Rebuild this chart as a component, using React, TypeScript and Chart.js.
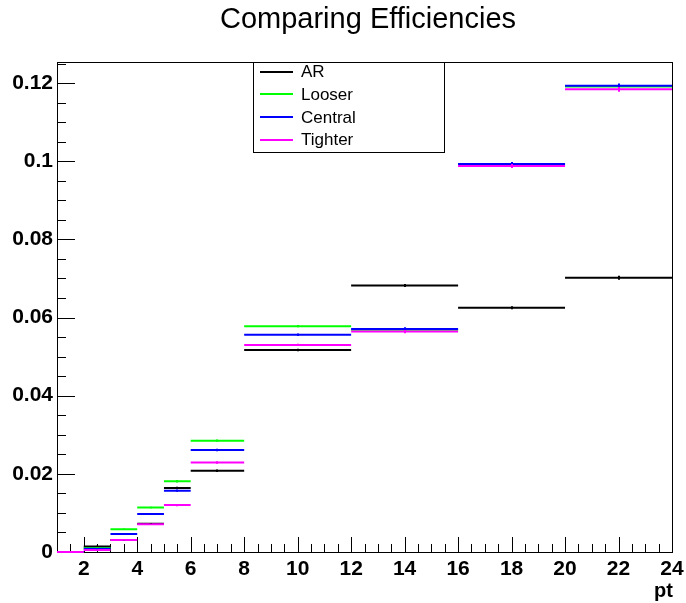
import React, { useEffect, useRef } from "react";
import { Chart, registerables } from "chart.js";

Chart.register(...registerables);

// ---- Data ----
const binEdges = [1, 2, 3, 4, 5, 6, 8, 12, 16, 20, 24];
const arValues = [0, 0.0014, 0.0031, 0.0072, 0.0164, 0.0208, 0.0517, 0.0682, 0.0625, 0.0702];
const looserValues = [0, 0.001, 0.0058, 0.0114, 0.0181, 0.0285, 0.0578, 0.0569, 0.0993, 0.1191];
const centralValues = [0, 0.0008, 0.0046, 0.0097, 0.0157, 0.0261, 0.0556, 0.0571, 0.0993, 0.1193];
const tighterValues = [0, 0.0005, 0.0031, 0.0071, 0.012, 0.0229, 0.053, 0.0564, 0.0988, 0.1184];
const arErrors = [0, 0.0002, 0.0002, 0.0002, 0.0003, 0.0003, 0.0003, 0.0004, 0.0004, 0.0005];
const looserErrors = [0, 0.0002, 0.0002, 0.0002, 0.0003, 0.0003, 0.0003, 0.0004, 0.0005, 0.0006];
const centralErrors = [0, 0.0002, 0.0002, 0.0002, 0.0003, 0.0003, 0.0003, 0.0004, 0.0005, 0.0006];
const tighterErrors = [0, 0.0002, 0.0002, 0.0002, 0.0003, 0.0003, 0.0003, 0.0004, 0.0005, 0.0006];
const seriesNames = ["AR", "Looser", "Central", "Tighter"];
const seriesColors = ["#000000", "#00ff00", "#0000ff", "#ff00ff"];
const xTickValues = [2, 4, 6, 8, 10, 12, 14, 16, 18, 20, 22, 24];
const xTickLabels = ["2", "4", "6", "8", "10", "12", "14", "16", "18", "20", "22", "24"];
const yTickValues = [0, 0.02, 0.04, 0.06, 0.08, 0.1, 0.12];
const yTickLabels = ["0", "0.02", "0.04", "0.06", "0.08", "0.1", "0.12"];
const xMin = 1;
const xMax = 24;
const yMin = 0;
const yMax = 0.1254;
const titleText = "Comparing Efficiencies";
const xAxisTitle = "pt";

const allValues = [arValues, looserValues, centralValues, tighterValues];
const allErrors = [arErrors, looserErrors, centralErrors, tighterErrors];

const FONT = "'Liberation Sans', Arial, Helvetica, sans-serif";

function toSegments(values: number[]) {
  const pts: { x: number; y: number | null }[] = [];
  values.forEach((v, i) => {
    pts.push({ x: binEdges[i], y: v });
    pts.push({ x: binEdges[i + 1], y: v });
    pts.push({ x: binEdges[i + 1], y: null });
  });
  return pts;
}

const rootPlugin = {
  id: "rootStyle",
  beforeDatasetsDraw(chart: any) {
    const ctx = chart.ctx;
    const a = chart.chartArea;
    const xs = chart.scales.x;
    const ys = chart.scales.y;
    ctx.save();
    ctx.strokeStyle = "#000";
    ctx.lineWidth = 1;
    // frame
    ctx.strokeRect(Math.round(a.left) + 0.5, Math.round(a.top) + 0.5, Math.round(a.right - a.left), Math.round(a.bottom - a.top));
    // x ticks (inward)
    ctx.beginPath();
    for (let v = xMin; v <= xMax + 1e-9; v += 0.5) {
      const px = Math.round(xs.getPixelForValue(v)) + 0.5;
      const major = xTickValues.includes(v);
      const len = major ? 15 : 8;
      ctx.moveTo(px, a.bottom);
      ctx.lineTo(px, a.bottom - len);
    }
    // y ticks (inward)
    for (let k = 0; k * 0.005 <= yMax + 1e-9; k++) {
      const v = k * 0.005;
      const py = Math.round(ys.getPixelForValue(v)) + 0.5;
      const major = k % 4 === 0;
      const len = major ? 18 : 9;
      ctx.moveTo(a.left, py);
      ctx.lineTo(a.left + len, py);
    }
    ctx.stroke();
    ctx.restore();
  },
  afterDatasetsDraw(chart: any) {
    const ctx = chart.ctx;
    const xs = chart.scales.x;
    const ys = chart.scales.y;
    ctx.save();
    allValues.forEach((vals, si) => {
      ctx.strokeStyle = seriesColors[si];
      ctx.lineWidth = 2;
      vals.forEach((v, i) => {
        const e = allErrors[si][i];
        if (!e) return;
        const cx = Math.round(xs.getPixelForValue((binEdges[i] + binEdges[i + 1]) / 2));
        ctx.beginPath();
        ctx.moveTo(cx, ys.getPixelForValue(v - e));
        ctx.lineTo(cx, ys.getPixelForValue(v + e));
        ctx.stroke();
      });
    });
    ctx.restore();
  },
  afterDraw(chart: any) {
    const ctx = chart.ctx;
    ctx.save();
    // title
    ctx.fillStyle = "#000";
    ctx.font = `29px ${FONT}`;
    ctx.textAlign = "center";
    ctx.textBaseline = "alphabetic";
    ctx.fillText(titleText, 368, 28);

    // x axis title
    ctx.font = `bold 20px ${FONT}`;
    ctx.textAlign = "right";
    ctx.fillText(xAxisTitle, 673, 597);

    // legend
    const lx = 253, ly = 62, lw = 191, lh = 90;
    ctx.fillStyle = "#fff";
    ctx.fillRect(lx, ly, lw, lh);
    ctx.strokeStyle = "#000";
    ctx.lineWidth = 1;
    ctx.strokeRect(lx + 0.5, ly + 0.5, lw, lh);
    const rows = [71.5, 94, 117, 139.5];
    ctx.font = `17px ${FONT}`;
    ctx.textAlign = "left";
    ctx.textBaseline = "middle";
    seriesNames.forEach((name, i) => {
      ctx.strokeStyle = seriesColors[i];
      ctx.lineWidth = 2;
      ctx.beginPath();
      ctx.moveTo(260, Math.round(rows[i]));
      ctx.lineTo(293, Math.round(rows[i]));
      ctx.stroke();
      ctx.fillStyle = "#000";
      ctx.fillText(name, 301, rows[i] + 1);
    });
    ctx.restore();
  },
};

export default function App() {
  const ref = useRef<HTMLCanvasElement | null>(null);
  useEffect(() => {
    document.body.style.margin = "0";
    const canvas = ref.current!;
    const order = [4, 3, 2, 1];
    const chart = new Chart(canvas, {
      type: "line",
      data: {
        datasets: allValues.map((vals, i) => ({
          label: seriesNames[i],
          data: toSegments(vals),
          borderColor: seriesColors[i],
          backgroundColor: seriesColors[i],
          borderWidth: 2,
          pointRadius: 0,
          pointHoverRadius: 0,
          spanGaps: false,
          tension: 0,
          fill: false,
          clip: false,
          order: order[i],
        })),
      },
      options: {
        animation: false,
        responsive: false,
        devicePixelRatio: 1,
        events: [],
        layout: { padding: { top: 62, right: 14, left: 0, bottom: 0 } },
        plugins: {
          legend: { display: false },
          title: { display: false },
          tooltip: { enabled: false },
        },
        scales: {
          x: {
            type: "linear",
            min: xMin,
            max: xMax,
            grid: { display: false, drawTicks: false, tickLength: 0 },
            border: { display: false },
            afterBuildTicks: (scale: any) => {
              scale.ticks = xTickValues.map((v) => ({ value: v }));
            },
            afterFit: (scale: any) => {
              scale.height = 51;
              scale.paddingLeft = 0;
              scale.paddingRight = 0;
            },
            ticks: {
              autoSkip: false,
              maxRotation: 0,
              padding: 5,
              color: "#000",
              font: { family: FONT, size: 21, weight: "bold" },
              callback: (_v: any, i: number) => xTickLabels[i],
            },
          },
          y: {
            type: "linear",
            min: yMin,
            max: yMax,
            grid: { display: false, drawTicks: false, tickLength: 0 },
            border: { display: false },
            afterBuildTicks: (scale: any) => {
              scale.ticks = yTickValues.map((v) => ({ value: v }));
            },
            afterFit: (scale: any) => {
              scale.width = 57;
              scale.paddingTop = 0;
              scale.paddingBottom = 0;
            },
            ticks: {
              autoSkip: false,
              padding: 4,
              color: "#000",
              font: { family: FONT, size: 21, weight: "bold" },
              callback: (_v: any, i: number) => yTickLabels[i],
            },
          },
        },
      },
      plugins: [rootPlugin],
    } as any);
    return () => chart.destroy();
  }, []);
  return (
    <div style={{ position: "absolute", left: 0, top: 0, width: 686, height: 603 }}>
      <canvas ref={ref} width={686} height={603} style={{ width: 686, height: 603, display: "block" }} />
    </div>
  );
}
